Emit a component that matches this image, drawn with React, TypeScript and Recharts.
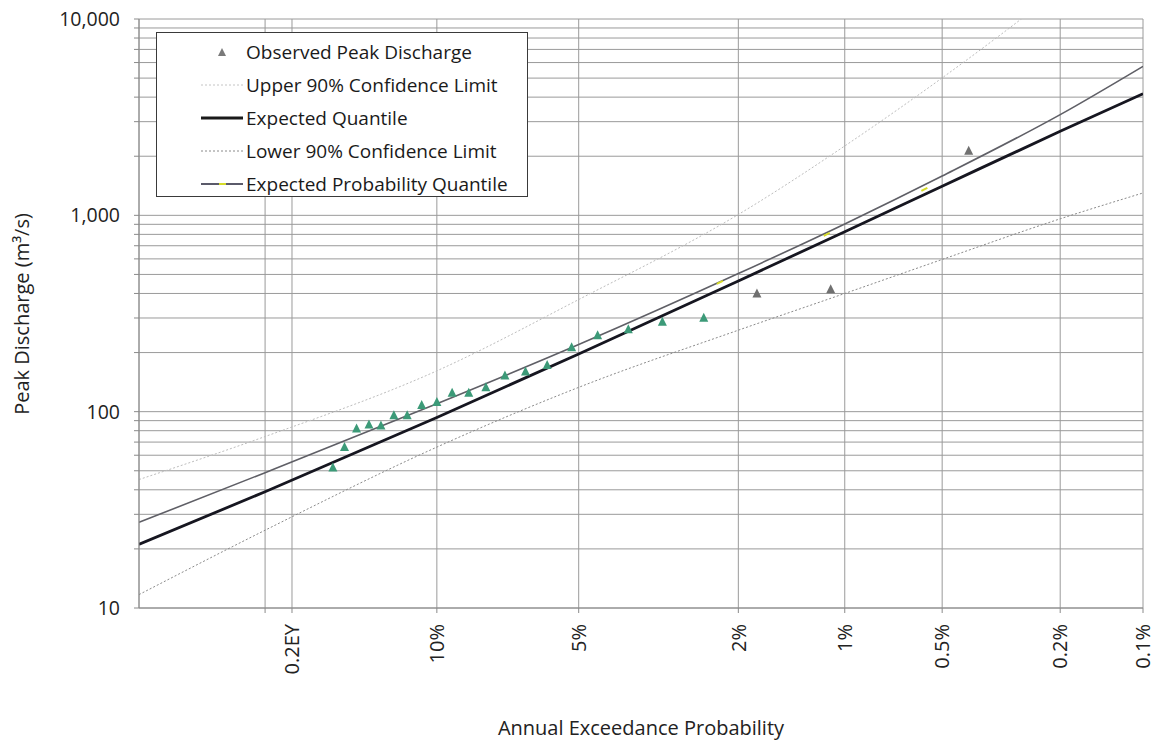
import { ComposedChart, Line, Scatter, XAxis, YAxis, CartesianGrid, Legend, Cell } from "recharts";

// AEP in percent, discharge in m³/s
const lineAep = [30.2, 20, 10, 5, 2, 1, 0.5, 0.2, 0.1];
const expectedQuantile = [21.1, 39.1, 93.4, 196.6, 463, 825, 1407, 2679, 4159];
const expectedProbQuantile = [27.3, 48.9, 109.7, 219.6, 505, 904, 1586, 3258, 5741];
const upperLimit = [45.1, 74.7, 161.4, 372.5, 1010, 2256, 5013, 14240, 31100];
const lowerLimit = [11.7, 24.9, 66, 133, 260, 400, 596, 960, 1300];

const observedAep = [15.5, 14.8, 14.1, 13.4, 12.75, 12.07, 11.4, 10.7, 10.0, 9.33, 8.64, 7.97, 7.27, 6.57, 5.89, 5.19, 4.52, 3.82, 3.15, 2.47, 1.78, 1.1, 0.41];
const observedQ = [52, 66, 82, 86, 85, 96, 96, 108, 112, 125, 125, 133, 153, 160, 173, 213, 245, 263, 287, 301, 400, 420, 2130];
const observedGreenCount = 20;

const epqMarkAep = [2.24, 1.13, 0.57];
const epqMarkQ = [455, 799, 1356];

const xTickAep = [20, 18.127, 10, 5, 2, 1, 0.5, 0.2, 0.1];
const xTickLabels = ["", "0.2EY", "10%", "5%", "2%", "1%", "0.5%", "0.2%", "0.1%"];
const yTicks = [10, 20, 30, 40, 50, 60, 70, 80, 90, 100, 200, 300, 400, 500, 600, 700, 800, 900, 1000, 2000, 3000, 4000, 5000, 6000, 7000, 8000, 9000, 10000];
const yLabelled = [10, 100, 1000, 10000];

const FONT = "'Open Sans', sans-serif";

// inverse standard normal (Acklam)
function normInv(p: number): number {
    const a = [-39.69683028665376, 220.9460984245205, -275.9285104469687, 138.357751867269, -30.66479806614716, 2.506628277459239];
    const b = [-54.47609879822406, 161.5858368580409, -155.6989798598866, 66.80131188771972, -13.28068155288572];
    const c = [-0.007784894002430293, -0.3223964580411365, -2.400758277161838, -2.549671348283689, 4.374664141464968, 2.938163982698783];
    const d = [0.007784695709041462, 0.3224671290700398, 2.445134137142996, 3.754408661907416];
    const pl = 0.02425;
    if (p < pl) {
        const q = Math.sqrt(-2 * Math.log(p));
        return (((((c[0] * q + c[1]) * q + c[2]) * q + c[3]) * q + c[4]) * q + c[5]) / ((((d[0] * q + d[1]) * q + d[2]) * q + d[3]) * q + 1);
    }
    if (p <= 1 - pl) {
        const q = p - 0.5;
        const r = q * q;
        return (((((a[0] * r + a[1]) * r + a[2]) * r + a[3]) * r + a[4]) * r + a[5]) * q / (((((b[0] * r + b[1]) * r + b[2]) * r + b[3]) * r + b[4]) * r + 1);
    }
    const q = Math.sqrt(-2 * Math.log(1 - p));
    return -(((((c[0] * q + c[1]) * q + c[2]) * q + c[3]) * q + c[4]) * q + c[5]) / ((((d[0] * q + d[1]) * q + d[2]) * q + d[3]) * q + 1);
}

const toZ = (aepPct: number) => normInv(1 - aepPct / 100);

const makeSeries = (aep: number[], q: number[]) => aep.map((p, i) => ({ z: toZ(p), q: q[i] }));

const eqData = makeSeries(lineAep, expectedQuantile);
const epqData = makeSeries(lineAep, expectedProbQuantile);
const upperData = makeSeries(lineAep, upperLimit);
const lowerData = makeSeries(lineAep, lowerLimit);
const observedData = makeSeries(observedAep, observedQ);
const epqMarks = makeSeries(epqMarkAep, epqMarkQ);

const xTicks = xTickAep.map(toZ);
const xDomain = [toZ(30.2), toZ(0.1)];

const XTick = (props: any) => {
    const { x, y, index } = props;
    const label = xTickLabels[index];
    if (!label) return null;
    return (
        <text x={x} y={y} transform={`rotate(-90 ${x} ${y})`} textAnchor="end" dy="0.36em"
            fontFamily={FONT} fontSize={20} fill="#222">
            {label}
        </text>
    );
};

const Triangle = (props: any) => {
    const { cx, cy, fill } = props;
    if (cx == null || cy == null) return null;
    return <polygon points={`${cx},${cy - 5} ${cx - 4.5},${cy + 4} ${cx + 4.5},${cy + 4}`} fill={fill} />;
};

const YellowDash = (props: any) => {
    const { cx, cy } = props;
    if (cx == null || cy == null) return null;
    return <line x1={cx - 3} y1={cy + 1.5} x2={cx + 3} y2={cy - 1.5} stroke="#d6dc2a" strokeWidth={2} />;
};

const legendRows = [
    { label: "Observed Peak Discharge", kind: "tri" },
    { label: "Upper 90% Confidence Limit", kind: "upper" },
    { label: "Expected Quantile", kind: "eq" },
    { label: "Lower 90% Confidence Limit", kind: "lower" },
    { label: "Expected Probability Quantile", kind: "epq" },
];

const LegendBox = () => (
    <div style={{ width: 372, height: 165, border: "1.5px solid #3a3a3a", background: "#fff", boxSizing: "border-box", paddingTop: 2 }}>
        {legendRows.map(row => (
            <div key={row.label} style={{ height: 33.2, display: "flex", alignItems: "center" }}>
                <svg width={88} height={14} style={{ flex: "none" }}>
                    {row.kind === "tri" && <polygon points="65,3 61,11 69,11" fill="#7a7a7a" />}
                    {row.kind === "upper" && <line x1={44} y1={7} x2={86} y2={7} stroke="#c4c4c4" strokeWidth={1} strokeDasharray="2 2" />}
                    {row.kind === "eq" && <line x1={44} y1={7} x2={86} y2={7} stroke="#1a1a1a" strokeWidth={3} />}
                    {row.kind === "lower" && <line x1={44} y1={7} x2={86} y2={7} stroke="#8a8a8a" strokeWidth={1} strokeDasharray="2 2" />}
                    {row.kind === "epq" && (
                        <>
                            <line x1={44} y1={7} x2={86} y2={7} stroke="#5a5a6a" strokeWidth={2} />
                            <line x1={62} y1={7} x2={69} y2={7} stroke="#d6dc2a" strokeWidth={2} />
                        </>
                    )}
                </svg>
                <span style={{ fontFamily: FONT, fontSize: 19, color: "#1a1a1a", marginLeft: 1, whiteSpace: "nowrap" }}>{row.label}</span>
            </div>
        ))}
    </div>
);

function App() {
    return (
        <div style={{ position: "absolute", left: 0, top: 0, background: "#fff" }}>
            <ComposedChart width={1157} height={740} margin={{ top: 19, right: 14, bottom: 0, left: 0 }}>
                <CartesianGrid stroke="#9a9a9a" strokeWidth={1} />
                <XAxis
                    type="number"
                    dataKey="z"
                    domain={xDomain}
                    allowDataOverflow
                    ticks={xTicks}
                    interval={0}
                    height={132}
                    tickSize={5}
                    tickMargin={11}
                    stroke="#8a8a8a"
                    tick={<XTick />}
                    label={{
                        content: () => (
                            <text x={641} y={735} textAnchor="middle" fontFamily={FONT} fontSize={20} fill="#222">
                                Annual Exceedance Probability
                            </text>
                        ),
                    }}
                />
                <YAxis
                    type="number"
                    scale="log"
                    domain={[10, 10000]}
                    allowDataOverflow
                    ticks={yTicks}
                    interval={0}
                    width={139}
                    tickSize={5}
                    tickMargin={14}
                    stroke="#8a8a8a"
                    tick={{ fontFamily: FONT, fontSize: 19.5, fill: "#222" }}
                    tickFormatter={(v: number) => (yLabelled.includes(v) ? v.toLocaleString("en-US") : "")}
                    label={{
                        content: () => (
                            <text x={22} y={314} transform="rotate(-90 22 314)" textAnchor="middle" dy="0.36em"
                                fontFamily={FONT} fontSize={20} fill="#222">
                                Peak Discharge (m³/s)
                            </text>
                        ),
                    }}
                />
                <Legend
                    layout="horizontal"
                    verticalAlign="middle"
                    align="center"
                    wrapperStyle={{ left: 156, top: 32, width: 372, height: 165 }}
                    content={() => <LegendBox />}
                />
                <Line data={upperData} dataKey="q" stroke="#bdbdbd" strokeWidth={1} strokeDasharray="2 2" dot={false} type="monotone" isAnimationActive={false} />
                <Line data={lowerData} dataKey="q" stroke="#8a8a8a" strokeWidth={1} strokeDasharray="2 2" dot={false} type="monotone" isAnimationActive={false} />
                <Line data={epqData} dataKey="q" stroke="#5f5f66" strokeWidth={1.6} dot={false} type="monotone" isAnimationActive={false} />
                <Line data={eqData} dataKey="q" stroke="#161620" strokeWidth={2.8} dot={false} type="monotone" isAnimationActive={false} />
                <Scatter data={epqMarks} dataKey="q" shape={<YellowDash />} isAnimationActive={false} />
                <Scatter data={observedData} dataKey="q" shape={<Triangle />} isAnimationActive={false}>
                    {observedData.map((_, i) => (
                        <Cell key={i} fill={i < observedGreenCount ? "#3c9a78" : "#707070"} />
                    ))}
                </Scatter>
            </ComposedChart>
        </div>
    );
}

export default App
